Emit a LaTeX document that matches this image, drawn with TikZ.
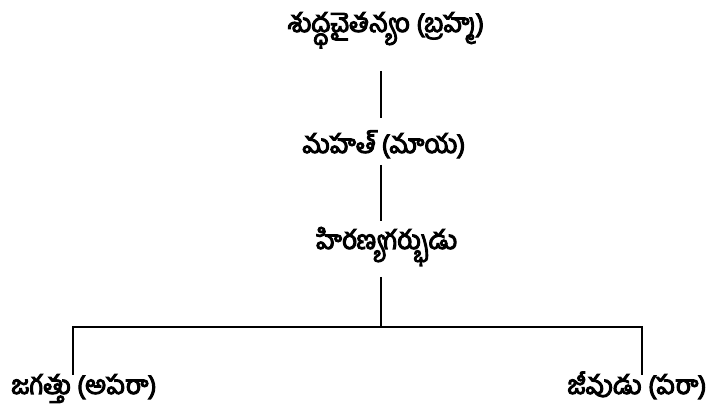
\documentclass[tikz,border=0pt]{standalone}
\usepackage{fontspec}
\newfontfamily\telugu[Script=Telugu,FakeBold=4]{Hind Guntur}
\begin{document}
\begin{tikzpicture}[x=1pt,y=1pt,
  lbl/.style={font=\telugu\fontsize{26}{30}\selectfont, inner sep=0pt, anchor=base},
  conn/.style={line width=1.4pt}]
\useasboundingbox (0,0) rectangle (712,-411);
\node[lbl] (top) at (386,-32) {శుద్ధచైతన్యం (బ్రహ్మ)};
\node[lbl] (mahat) at (384,-153) {మహత్ (మాయ)};
\node[lbl] (hir) at (387,-249) {హిరణ్యగర్భుడు};
\node[lbl, text depth=6pt] (jag) at (84,-394) {జగత్తు (అపరా)};
\node[lbl, text depth=6pt] (jiv) at (637,-394) {జీవుడు (పరా)};
\coordinate (a1) at (381,-71);
\coordinate (a2) at (381,-118);
\coordinate (b1) at (381,-165);
\coordinate (b2) at (381,-221);
\coordinate (c1) at (381,-277);
\coordinate (c2) at (381,-327);
\coordinate (hl) at (73,-327);
\coordinate (hr) at (642,-327);
\coordinate (dl) at (73,-375);
\coordinate (dr) at (642,-375);
\draw[conn, line width=2pt] (a1) -- (a2);
\draw[conn] (b1) -- (b2);
\draw[conn] (c1) -- (c2);
\draw[conn] (dl) -- (hl) -- (hr) -- (dr);
\end{tikzpicture}
\end{document}
